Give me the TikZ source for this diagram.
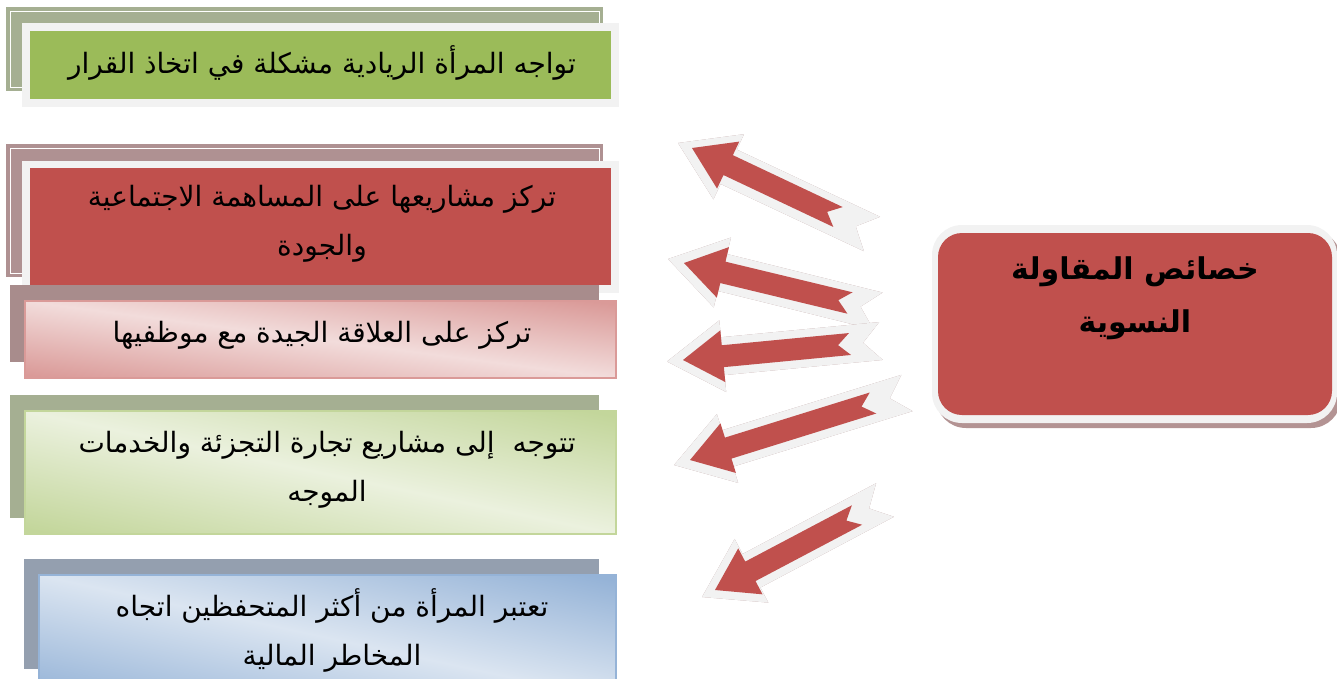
\documentclass[tikz,border=0pt]{standalone}
\usepackage{fontspec}
\newfontfamily\arabicfont[Script=Arabic]{DejaVu Sans}
\TeXXeTstate=1
\usetikzlibrary{calc}
\definecolor{bggreen}{HTML}{A5AF92}
\definecolor{bgmauve}{HTML}{AF9192}
\definecolor{bgmauveb}{HTML}{A88C8C}
\definecolor{bgblue}{HTML}{949FAF}
\definecolor{framegray}{HTML}{F2F2F2}
\definecolor{olivegreen}{HTML}{9BBB59}
\definecolor{brickred}{HTML}{C0504D}
\definecolor{pinkdark}{HTML}{DA9A98}
\definecolor{pinklight}{HTML}{F2DCDB}
\definecolor{greendark}{HTML}{C3D69B}
\definecolor{greenlight}{HTML}{EBF1DE}
\definecolor{bluedark}{HTML}{95B3D7}
\definecolor{bluelight}{HTML}{DBE5F1}
\definecolor{arrshadow}{HTML}{B39393}
\pgfdeclarehorizontalshading{pinkdiag}{100bp}{color(0bp)=(pinkdark); color(16bp)=(pinkdark); color(50bp)=(pinklight); color(84bp)=(pinkdark); color(100bp)=(pinkdark)}
\pgfdeclarehorizontalshading{greendiag}{100bp}{color(0bp)=(greendark); color(16bp)=(greendark); color(50bp)=(greenlight); color(84bp)=(greendark); color(100bp)=(greendark)}
\pgfdeclarehorizontalshading{bluediag}{100bp}{color(0bp)=(bluedark); color(16bp)=(bluedark); color(50bp)=(bluelight); color(84bp)=(bluedark); color(100bp)=(bluedark)}
% notched block arrow: #1 tail, #2 tip, #3 half shaft, #4 half head, #5 head length, #6 notch depth, #7 options
\newcommand\blockarrow[7]{%
  \path[#7] ($(#1)!#3!90:(#2)$)
    -- ($($(#2)!#5!(#1)$)!#3!90:(#2)$)
    -- ($($(#2)!#5!(#1)$)!#4!90:(#2)$)
    -- (#2)
    -- ($($(#2)!#5!(#1)$)!#4!-90:(#2)$)
    -- ($($(#2)!#5!(#1)$)!#3!-90:(#2)$)
    -- ($(#1)!#3!-90:(#2)$)
    -- ($(#1)!#6!(#2)$) -- cycle;}
% diagonal gradient box: #1 shading, #2 border colour, (#3,#4) top-left, (#5,#6) bottom-right
\newcommand\gradrect[6]{%
  \shade[shading=#1, shading angle=45,
    transform canvas={shift={(#3,#6)}, xscale=#5-#3, yscale=#6-#4}]
    (0pt,0pt) rectangle (1pt,1pt);
  \draw[#2, line width=2.5pt] (#3,#4) rectangle (#5,#6);}
\begin{document}
\begin{tikzpicture}[x=1pt,y=-1pt,
  txt/.style={font=\arabicfont\fontsize{28}{49}\selectfont, align=center, inner sep=0pt, text=black},
  ctxt/.style={font=\arabicfont\bfseries\fontsize{30}{53}\selectfont, align=center, inner sep=0pt, text=black},
  innerline/.style={draw=white, line width=1pt}]
\useasboundingbox (0,0) rectangle (1337,678);
\clip (0,0) rectangle (1337,678);
% ---- box 1
\fill[bggreen] (6,7) rectangle (603,91);
\draw[innerline] (10.5,11.5) rectangle (599,87.5);
\fill[framegray] (22,23) rectangle (619,107);
\fill[olivegreen] (30,31) rectangle (611,99);
% ---- box 2
\fill[bgmauve] (6,144) rectangle (603,277);
\draw[innerline] (10.5,148.5) rectangle (599,273.5);
\fill[framegray] (22,161) rectangle (619,293);
\fill[brickred] (30,168) rectangle (611,285);
% ---- box 3
\fill[bgmauveb] (10,285) rectangle (599,362);
\gradrect{pinkdiag}{pinkdark}{25}{301}{616}{378}
% ---- box 4
\fill[bggreen] (10,395) rectangle (599,518);
\gradrect{greendiag}{greendark}{25}{411}{616}{534}
% ---- box 5
\fill[bgblue] (24,559) rectangle (599,669);
\gradrect{bluediag}{bluedark}{39}{575}{616}{700}
% ---- texts
\node[txt] (t1) at (322,63) {\beginR تواجه المرأة الريادية مشكلة في اتخاذ القرار\endR};
\node[txt] (t2) at (322,224) {\beginR تركز مشاريعها على المساهمة الاجتماعية\endR\\\beginR والجودة\endR};
\node[txt] (t3) at (322,335) {\beginR تركز على العلاقة الجيدة مع موظفيها\endR};
\node[txt] (t4) at (327,470) {\beginR تتوجه\ \ إلى مشاريع تجارة التجزئة والخدمات\endR\\\beginR الموجه\endR};
\node[txt] (t5) at (332,630) {\beginR تعتبر المرأة من أكثر المتحفظين اتجاه\endR\\\beginR المخاطر المالية\endR};
% ---- centre box
\fill[arrshadow, rounded corners=30pt] (936,230) rectangle (1341,428);
\fill[framegray, rounded corners=30pt] (932,225) rectangle (1337,423);
\fill[brickred, rounded corners=24pt] (938,233) rectangle (1332,415);
\node[ctxt] (c) at (1135,298) {\beginR خصائص المقاولة\endR\\\beginR النسوية\endR};
% ---- arrows
\coordinate (a1gt) at (872,234); \coordinate (a1gp) at (678,143);
\coordinate (a1rt) at (838,217); \coordinate (a1rp) at (692,148);
\coordinate (a2gt) at (878,311); \coordinate (a2gp) at (668,259);
\coordinate (a2rt) at (850,303); \coordinate (a2rp) at (684,263);
\coordinate (a3gt) at (881,341); \coordinate (a3gp) at (667,361.5);
\coordinate (a3rt) at (850,344); \coordinate (a3rp) at (683,360);
\coordinate (a4gt) at (907,393); \coordinate (a4gp) at (674,465);
\coordinate (a4rt) at (873,403); \coordinate (a4rp) at (690,460);
\coordinate (a5gt) at (885,500); \coordinate (a5gp) at (702,597);
\coordinate (a5rt) at (857,515); \coordinate (a5rp) at (715,590);
\foreach \i in {1,...,5}{
  \begin{scope}[shift={(2,5)}]
    \blockarrow{a\i gt}{a\i gp}{19pt}{36pt}{56pt}{18pt}{fill=arrshadow}
  \end{scope}
  \blockarrow{a\i gt}{a\i gp}{19pt}{36pt}{56pt}{18pt}{fill=framegray}
  \blockarrow{a\i rt}{a\i rp}{11pt}{26pt}{40pt}{12pt}{fill=brickred}
}
\end{tikzpicture}
\end{document}
